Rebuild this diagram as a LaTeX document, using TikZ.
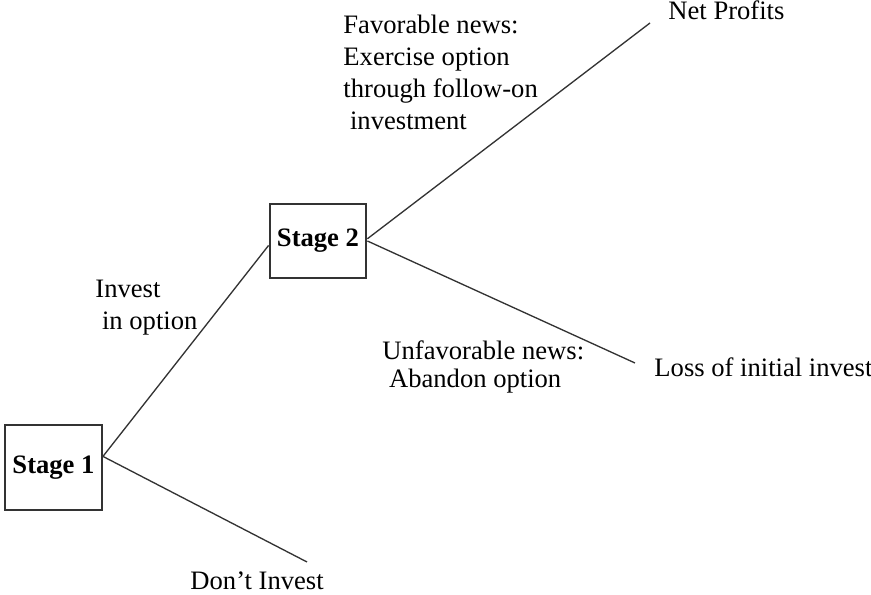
\documentclass[tikz,border=0pt]{standalone}
\usepackage{fontspec}
\setmainfont{Liberation Serif}
\usepackage{tikz}

\begin{document}
\begin{tikzpicture}[x=0.451pt, y=-0.451pt,
    font=\fontsize{12}{14.4}\selectfont,
    stagebox/.style={draw=black!80, line width=0.9pt, font=\fontsize{12}{14.4}\selectfont\bfseries},
    branch/.style={draw=black!80, line width=0.6pt},
    lbl/.style={inner sep=0pt, align=left}]
    \useasboundingbox (0, 0) rectangle (871, 595);
    \node[stagebox, minimum width=43.7pt, minimum height=38.3pt] (s1) at (53.5, 467.5) {Stage 1};
    \node[stagebox, minimum width=40.6pt, minimum height=33.4pt] (s2) at (318, 241) {Stage 2};
    \coordinate (np) at (650, 23);
    \coordinate (li) at (635, 363);
    \coordinate (di) at (307, 562);
    \draw[branch] ([yshift=5pt]s1.east) -- ([yshift=-2pt]s2.west);
    \draw[branch] ([yshift=5pt]s1.east) -- (di);
    \draw[branch] ([yshift=1pt]s2.east) -- (np);
    \draw[branch] (s2.east) -- (li);
    \node[lbl, anchor=north west] (fav) at (343, 15)
      {Favorable news:\\Exercise option\\through follow-on\\\ investment};
    \node[lbl, anchor=north west] (inv) at (95, 280)
      {Invest\\\ in option};
    \node[lbl, anchor=north west, font=\fontsize{12}{13}\selectfont] (unfav) at (382, 340)
      {Unfavorable news:\\\ Abandon option};
    \node[lbl, anchor=base west] (profit) at (668, 20) {Net Profits};
    \node[lbl, anchor=base west] (loss) at (654, 377) {Loss of initial invest};
    \node[lbl, anchor=base west] (dont) at (190, 590) {Don’t Invest};
  \end{tikzpicture}
\end{document}
